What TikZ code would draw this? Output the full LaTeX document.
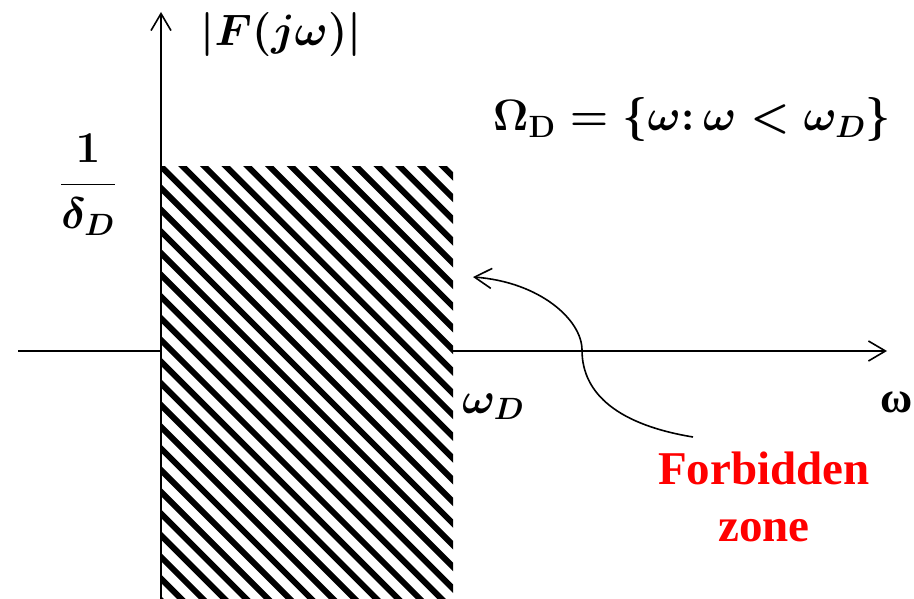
\RequirePackage{fix-cm}
\documentclass[tikz,border=0pt]{standalone}
\usepackage{fontspec}
\newfontfamily\tnr{Liberation Serif}
\usetikzlibrary{arrows.meta}
\begin{document}
\begin{tikzpicture}[x=1pt,y=-1pt,
  every node/.style={inner sep=0pt},
  tipV/.style={-{Straight Barb[length=17pt,width=20pt]}},
  axisline/.style={line width=1.6pt,tipV},
  hatchline/.style={line width=6pt,black},
  mathlbl/.style={font=\fontsize{44}{50}\selectfont\boldmath},
  redlbl/.style={font=\fontsize{47}{57}\selectfont\tnr\bfseries,text=red,align=center}]
\useasboundingbox (0,0) rectangle (914,599);
% axes
\coordinate (vb) at (161,599);
\coordinate (vt) at (161,12);
\coordinate (hl) at (18,351);
\coordinate (hr) at (887,351);
\draw[axisline] (vb) -- (vt);
\draw[axisline] (hl) -- (hr);
% hatched forbidden zone
\begin{scope}
  \clip (162,167) rectangle (453,599);
  \fill[white] (162,167) rectangle (453,599);
  \foreach \i in {-23,...,12}{
    \draw[hatchline] ({38+21.7*\i},0) -- ++(700,700);
  }
\end{scope}
% labels
\node[mathlbl] (F) at (281,35) {$|F(j\omega)|$};
\node[mathlbl] (set) at (692,120) {$\Omega_{\mathbf{D}}=\{\omega\colon\omega<\omega_D\}$};
\node[mathlbl] (frac) at (88,185) {$\displaystyle\frac{1}{\delta_D}$};
\node[mathlbl,anchor=base west] (wD) at (462,413) {$\omega_D$};
\node[font=\fontsize{44}{48}\selectfont\tnr\bfseries,anchor=base] (w) at (897,412) {ω};
\node[redlbl] (fz) at (764,497) {Forbidden\\zone};
% curved arrow
\coordinate (cs) at (693,437);
\coordinate (cm) at (582,350);
\coordinate (ce) at (473,277);
\draw[line width=1.6pt,tipV] (cs) .. controls (620,425) and (582,395) .. (cm)
   .. controls (582,320) and (540,282) .. (ce);
\end{tikzpicture}
\end{document}
